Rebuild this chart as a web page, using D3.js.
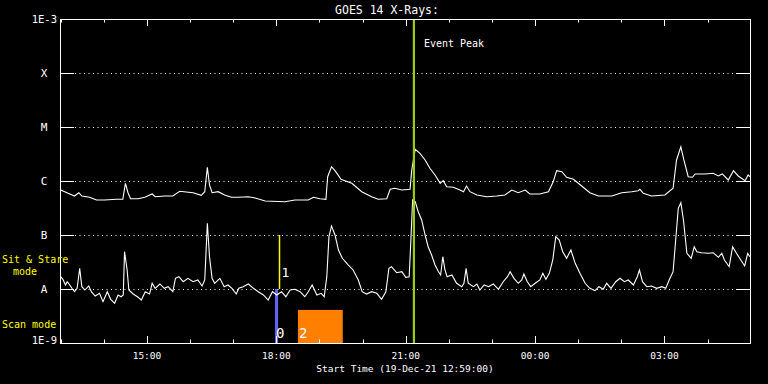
<!DOCTYPE html>
<html>
<head>
<meta charset="utf-8">
<script src="https://cdn.jsdelivr.net/npm/d3@7/dist/d3.min.js"></script>
<style>
html,body{margin:0;padding:0;background:#000;}
svg{display:block;}
text{font-family:"DejaVu Sans Mono","Liberation Mono",monospace;fill:#fff;}
</style>
</head>
<body>
<svg id="chart" width="768" height="384"></svg>
<script>
// ---- data (time in hours since 19-Dec-21 00:00 UT, flux as log10 W/m^2) ----
const titleText = "GOES 14 X-Rays:";
const xTitle = "Start Time (19-Dec-21 12:59:00)";
const startHour = 12 + 59/60;
const endHour = 28 + 59/60;
const majorTickHours = [15, 18, 21, 24, 27];
const majorTickLabels = ["15:00", "18:00", "21:00", "00:00", "03:00"];
const minorTickHours = [13,14,16,17,19,20,22,23,25,26,28];
const levelFlux = [1e-8, 1e-7, 1e-6, 1e-5, 1e-4];
const levelLabels = ["A", "B", "C", "M", "X"];
const endFlux = [1e-9, 1e-3];
const endLabels = ["1E-9", "1E-3"];

const longTimes = [13.00,13.17,13.32,13.42,13.49,13.67,13.83,14.02,14.29,14.44,14.50,14.56,14.62,14.79,14.95,15.12,15.19,15.41,15.60,15.76,15.91,16.07,16.26,16.34,16.40,16.45,16.51,16.65,16.80,16.96,17.11,17.35,17.51,17.74,18.20,18.43,18.74,18.86,19.01,19.15,19.19,19.28,19.36,19.50,19.59,19.75,19.98,20.21,20.36,20.56,20.64,20.75,20.91,21.10,21.14,21.22,21.33,21.45,21.56,21.68,21.80,21.87,21.95,22.10,22.26,22.34,22.41,22.49,22.65,22.88,23.11,23.30,23.46,23.61,23.77,23.88,24.11,24.31,24.42,24.50,24.62,24.73,24.89,25.08,25.27,25.47,25.78,26.01,26.24,26.39,26.43,26.51,26.70,27.01,27.20,27.28,27.38,27.45,27.55,27.65,27.71,27.94,28.13,28.25,28.34,28.48,28.60,28.71,28.87,28.94,28.98];
const longLogFlux = [-6.167,-6.228,-6.278,-6.217,-6.278,-6.302,-6.352,-6.352,-6.339,-6.339,-6.043,-6.217,-6.328,-6.328,-6.302,-6.241,-6.291,-6.278,-6.278,-6.191,-6.204,-6.217,-6.265,-6.198,-5.746,-6.074,-6.217,-6.198,-6.259,-6.302,-6.302,-6.291,-6.315,-6.370,-6.383,-6.352,-6.352,-6.302,-6.328,-6.339,-5.920,-5.735,-5.809,-5.969,-5.994,-6.043,-6.198,-6.291,-6.339,-6.328,-6.154,-6.135,-6.167,-6.154,-5.796,-5.413,-5.487,-5.611,-5.765,-5.889,-6.043,-5.994,-6.106,-6.117,-6.167,-6.198,-6.093,-6.198,-6.259,-6.291,-6.278,-6.259,-6.167,-6.217,-6.167,-6.241,-6.241,-6.198,-6.013,-5.809,-5.828,-5.931,-5.969,-6.093,-6.217,-6.278,-6.278,-6.217,-6.198,-6.180,-6.154,-6.228,-6.278,-6.259,-6.135,-5.611,-5.365,-5.611,-5.920,-5.931,-5.870,-5.870,-5.857,-5.907,-5.870,-5.981,-5.809,-5.907,-5.994,-5.889,-5.920];

const shortTimes = [13.00,13.05,13.11,13.15,13.21,13.26,13.32,13.38,13.44,13.49,13.56,13.65,13.71,13.80,13.90,13.98,14.08,14.16,14.25,14.33,14.40,14.45,14.48,14.54,14.58,14.68,14.78,14.87,14.96,15.06,15.12,15.19,15.30,15.40,15.49,15.60,15.66,15.74,15.84,15.95,16.07,16.18,16.28,16.34,16.40,16.45,16.51,16.57,16.69,16.79,16.88,16.97,17.07,17.13,17.23,17.35,17.47,17.58,17.70,17.81,17.91,18.01,18.12,18.22,18.32,18.43,18.55,18.66,18.74,18.83,18.94,19.04,19.11,19.17,19.22,19.28,19.36,19.44,19.53,19.67,19.78,19.90,19.99,20.09,20.21,20.33,20.44,20.54,20.61,20.67,20.79,20.91,21.00,21.08,21.12,21.16,21.22,21.29,21.37,21.45,21.52,21.60,21.68,21.76,21.81,21.86,21.91,21.96,22.07,22.18,22.30,22.35,22.40,22.45,22.57,22.65,22.72,22.82,22.92,23.03,23.15,23.26,23.36,23.42,23.51,23.61,23.69,23.74,23.82,23.90,24.00,24.11,24.18,24.25,24.33,24.41,24.48,24.56,24.64,24.73,24.83,24.93,25.04,25.16,25.27,25.39,25.48,25.58,25.66,25.76,25.87,25.97,26.07,26.16,26.28,26.37,26.42,26.49,26.59,26.70,26.82,26.94,27.03,27.11,27.20,27.26,27.32,27.38,27.44,27.52,27.62,27.69,27.75,27.86,28.02,28.13,28.25,28.33,28.39,28.50,28.58,28.67,28.77,28.86,28.93,28.98];
const shortLogFlux = [-7.772,-7.820,-7.926,-7.865,-7.926,-7.987,-8.050,-7.987,-7.617,-7.957,-8.019,-7.944,-8.050,-8.130,-8.080,-8.235,-8.050,-8.191,-8.265,-8.111,-8.143,-8.111,-7.309,-7.648,-8.019,-8.093,-8.143,-8.204,-8.050,-8.093,-7.894,-7.987,-7.907,-7.987,-7.957,-8.050,-7.802,-7.772,-7.865,-7.802,-7.865,-7.833,-7.944,-7.833,-6.783,-7.402,-7.802,-7.894,-7.802,-7.957,-7.926,-7.987,-8.093,-7.987,-7.957,-7.907,-7.987,-8.050,-8.111,-8.204,-8.050,-8.111,-8.050,-8.143,-8.019,-8.006,-8.050,-8.143,-8.050,-7.926,-8.111,-8.080,-8.143,-7.772,-7.031,-6.833,-7.000,-7.278,-7.431,-7.556,-7.648,-7.833,-8.050,-8.093,-8.050,-8.080,-8.191,-8.050,-7.617,-7.587,-7.698,-7.680,-7.783,-7.772,-7.093,-6.352,-6.383,-6.569,-6.722,-7.000,-7.217,-7.370,-7.556,-7.680,-7.741,-7.402,-7.648,-7.772,-7.741,-7.894,-7.957,-7.894,-7.617,-7.894,-7.957,-7.907,-8.019,-7.926,-7.957,-7.907,-8.006,-7.865,-7.772,-7.680,-7.802,-7.894,-7.833,-7.722,-7.865,-7.957,-7.894,-7.833,-7.709,-7.820,-7.709,-7.463,-7.031,-7.093,-7.309,-7.431,-7.278,-7.524,-7.709,-7.894,-7.987,-8.031,-7.957,-8.006,-7.894,-7.987,-7.865,-7.802,-7.865,-7.833,-7.926,-7.772,-7.648,-7.865,-7.957,-7.944,-7.987,-7.957,-7.987,-7.833,-7.680,-7.093,-6.506,-6.402,-6.722,-7.339,-7.431,-7.217,-7.309,-7.328,-7.339,-7.328,-7.413,-7.339,-7.463,-7.587,-7.217,-7.339,-7.463,-7.574,-7.339,-7.402];

const eventPeakHour = 21.19;
const modeNames = ["Sit & Stare", "mode", "Scan mode"];
// observation markers: label, start/end hours
const scanBlocks = [{label:"0", start:17.97, end:18.04}, {label:"2", start:18.50, end:19.54}];
const stareMarker = {label:"1", hour:18.05};

// ---- drawing ----
const svg = d3.select("#chart");
const L = 60, R = 750, T = 19, B = 343;
const x = d3.scaleLinear().domain([startHour, endHour]).range([L, R]);
const y = d3.scaleLog().domain([1e-9, 1e-3]).range([B, T]);

svg.append("rect").attr("width",768).attr("height",384).attr("fill","#000");

svg.append("defs").append("clipPath").attr("id","clip")
  .append("rect").attr("x",L).attr("y",T).attr("width",R-L).attr("height",B-T);

// scan mode blocks
const blockColors = ["#6464ff", "#ff8000"];
const blockTop = [1e-8, 4.1e-9];
scanBlocks.forEach((b,i) => {
  svg.append("rect")
    .attr("x", x(b.start)).attr("width", x(b.end)-x(b.start))
    .attr("y", y(blockTop[i])).attr("height", B - y(blockTop[i]))
    .attr("fill", blockColors[i]);
  svg.append("text").attr("x", x(b.start)+1).attr("y", 338)
    .attr("font-size", 14).text(b.label);
});

// dotted level lines + ticks
levelFlux.forEach((f,i) => {
  const yy = Math.round(y(f)) + 0.5;
  svg.append("line").attr("x1", L+15).attr("x2", R-15).attr("y1", yy).attr("y2", yy)
    .attr("stroke","#fff").attr("stroke-width",1).attr("stroke-dasharray","1,3.5");
  svg.append("line").attr("x1", L).attr("x2", L+14).attr("y1", yy).attr("y2", yy)
    .attr("stroke","#fff").attr("stroke-width",1);
  svg.append("line").attr("x1", R-14).attr("x2", R).attr("y1", yy).attr("y2", yy)
    .attr("stroke","#fff").attr("stroke-width",1);
  svg.append("text").attr("x", 44).attr("y", y(f)).attr("text-anchor","middle")
    .attr("dominant-baseline","central").attr("font-size", 11).text(levelLabels[i]);
});
endFlux.forEach((f,i) => {
  svg.append("text").attr("x", 57).attr("y", i===0 ? y(f)-3 : y(f)).attr("text-anchor","end")
    .attr("dominant-baseline","central").attr("font-size", 10.5).text(endLabels[i]);
});

// x ticks
const tickG = svg.append("g").attr("stroke","#fff").attr("stroke-width",1);
majorTickHours.forEach((h,i) => {
  const xx = Math.round(x(h)) + 0.5;
  tickG.append("line").attr("x1",xx).attr("x2",xx).attr("y1",B).attr("y2",B-7);
  tickG.append("line").attr("x1",xx).attr("x2",xx).attr("y1",T).attr("y2",T+7);
  svg.append("text").attr("x", x(h)).attr("y", 355).attr("text-anchor","middle")
    .attr("dominant-baseline","central").attr("font-size", 9.5).text(majorTickLabels[i]);
});
minorTickHours.forEach(h => {
  const xx = Math.round(x(h)) + 0.5;
  tickG.append("line").attr("x1",xx).attr("x2",xx).attr("y1",B).attr("y2",B-3.5);
  tickG.append("line").attr("x1",xx).attr("x2",xx).attr("y1",T).attr("y2",T+3.5);
});

// curves
const line = d3.line().x(d => x(d[0])).y(d => y(Math.pow(10, d[1])));
const longData = longTimes.map((t,i) => [t, longLogFlux[i]]);
const shortData = shortTimes.map((t,i) => [t, shortLogFlux[i]]);
const cg = svg.append("g").attr("clip-path","url(#clip)");
[longData, shortData].forEach(d => {
  cg.append("path").attr("d", line(d)).attr("fill","none")
    .attr("stroke","#fff").attr("stroke-width",1.1);
});

// sit & stare marker (drawn above the curves)
const sx = Math.round(x(stareMarker.hour)) + 0.5;
svg.append("line")
  .attr("x1", sx).attr("x2", sx)
  .attr("y1", y(1e-7)).attr("y2", y(1e-8))
  .attr("stroke","#ffff00").attr("stroke-width",1.5);
svg.append("text").attr("x", x(stareMarker.hour)+3).attr("y", 277)
  .attr("font-size", 13).text(stareMarker.label);

// event peak
const ex = x(eventPeakHour);
svg.append("line").attr("x1",ex).attr("x2",ex).attr("y1",T).attr("y2",B)
  .attr("stroke","#99cc11").attr("stroke-width",2.2);
svg.append("text").attr("x", ex+10).attr("y", 43).attr("dominant-baseline","central")
  .attr("font-size", 10).text("Event Peak");

// frame
svg.append("rect").attr("x", L+0.5).attr("y", T+0.5).attr("width", R-L).attr("height", B-T)
  .attr("fill","none").attr("stroke","#fff").attr("stroke-width",1);

// titles
svg.append("text").attr("x", 387).attr("y", 10).attr("text-anchor","middle")
  .attr("dominant-baseline","central").attr("font-size", 11.5).text(titleText);
svg.append("text").attr("x", (L+R)/2).attr("y", 368).attr("text-anchor","middle")
  .attr("dominant-baseline","central").attr("font-size", 9.5).text(xTitle);

// mode labels
svg.append("text").attr("x", 2).attr("y", 259).attr("dominant-baseline","central")
  .attr("font-size", 10).style("fill","#ffff00").text(modeNames[0]);
svg.append("text").attr("x", 13).attr("y", 271).attr("dominant-baseline","central")
  .attr("font-size", 10).style("fill","#ffff00").text(modeNames[1]);
svg.append("text").attr("x", 2).attr("y", 324).attr("dominant-baseline","central")
  .attr("font-size", 10).style("fill","#ffff00").text(modeNames[2]);
</script>
</body>
</html>
